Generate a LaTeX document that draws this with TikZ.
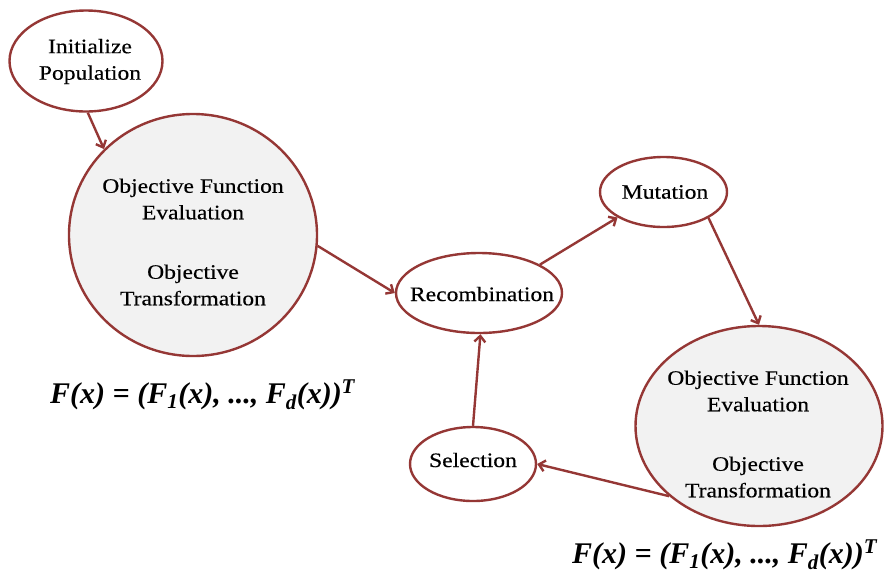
\documentclass[tikz,border=0pt]{standalone}
\usepackage{fontspec}
\setmainfont{Liberation Serif}[FakeStretch=1.15,FakeBold=0.35]
\newfontfamily\formfont{Liberation Serif}
\usetikzlibrary{shapes.geometric,arrows.meta}
\definecolor{edge}{HTML}{953735}
\definecolor{bigfill}{HTML}{F2F2F2}
\tikzset{
  ell/.style={ellipse, draw=edge, line width=2.4pt, fill=white, inner sep=0pt},
  bigell/.style={ell, fill=bigfill},
  txt/.style={align=center, font=\fontsize{20.5}{26.5}\selectfont, inner sep=0pt},
  formula/.style={font=\formfont\fontsize{30}{34}\selectfont\bfseries\itshape, inner sep=0pt, anchor=base west},
  conn/.style={draw=edge, line width=2.4pt, -{Straight Barb[length=6pt,width=11pt]}}
}
\begin{document}
\begin{tikzpicture}[x=1pt,y=-1pt]
\useasboundingbox (0,0) rectangle (885,574);
% ellipses
\node[ell, minimum width=153pt, minimum height=101pt] (init) at (86,61) {};
\node[bigell, minimum width=248pt, minimum height=242pt] (obj1) at (193,235) {};
\node[ell, minimum width=166pt, minimum height=80pt] (recomb) at (479,293) {};
\node[ell, minimum width=127pt, minimum height=70pt] (mut) at (663.5,192) {};
\node[ell, minimum width=126pt, minimum height=74pt] (sel) at (473,464) {};
\node[bigell, minimum width=247pt, minimum height=200pt] (obj2) at (759,426) {};
% texts
\node[txt] (tinit) at (90,61.5) {Initialize\\Population};
\node[txt] (tobj1) at (193,242) {Objective Function\\Evaluation\\[33pt]Objective\\Transformation};
\node[txt] (trecomb) at (482,294) {Recombination};
\node[txt] (tmut) at (665,192) {Mutation};
\node[txt] (tsel) at (473,460) {Selection};
\node[txt] (tobj2) at (758,434) {Objective Function\\Evaluation\\[33pt]Objective\\Transformation};
% formulas
\node[formula] (f1) at (50,403) {F(x) = (F\textsubscript{1}(x), ..., F\textsubscript{d}(x))\textsuperscript{T}};
\node[formula] (f2) at (572,563) {F(x) = (F\textsubscript{1}(x), ..., F\textsubscript{d}(x))\textsuperscript{T}};
% connectors
\draw[conn] (init.-88) -- (obj1.136);
\draw[conn] (obj1.-5) -- (recomb.180);
\draw[conn] (recomb.25) -- (mut.209);
\draw[conn] (mut.-30) -- (obj2.90);
\draw[conn] (obj2.218) -- (sel.0);
\draw[conn] (sel.90) -- (recomb.-88);
\end{tikzpicture}
\end{document}
